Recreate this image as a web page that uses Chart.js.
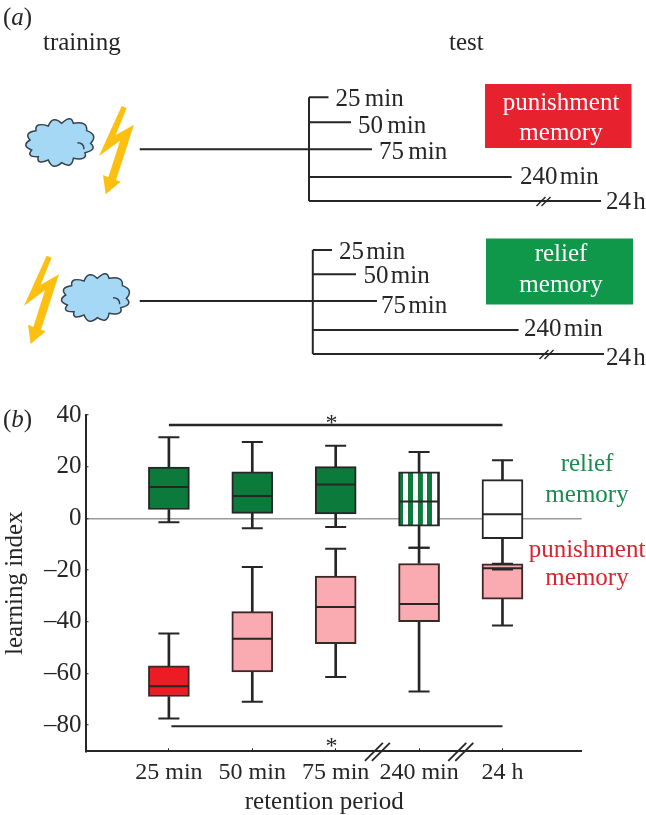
<!DOCTYPE html>
<html><head><meta charset="utf-8">
<style>html,body{margin:0;padding:0;background:#fff}canvas{position:absolute;left:0;display:block}</style>
<script src="https://cdn.jsdelivr.net/npm/chart.js@4"></script>
</head><body>
<canvas id="a" width="646" height="400" style="top:0"></canvas>
<canvas id="b" width="646" height="415" style="top:400px"></canvas>
<script>
// ---------- panel (b) data ----------
const categories = ['25 min','50 min','75 min','240 min','24 h'];
const positions = [1,2,3,4,5];
const reliefHigh   = [31.4,29.5,28.1,25.7,22.5];
const reliefQ3     = [19.8,18.0,20.0,18.0,15.0];
const reliefMedian = [12.1,8.6,13.1,6.5,1.6];
const reliefQ1     = [3.4,1.9,1.7,-3.0,-7.9];
const reliefLow    = [-1.5,-3.8,-3.4,-11.4,-19.8];
const punishHigh   = [-44.6,-18.8,-11.8,-11.4,-17.6];
const punishQ3     = [-57.1,-36.1,-22.4,-17.5,-17.6];
const punishMedian = [-65.0,-46.6,-34.3,-33.2,-19.3];
const punishQ1     = [-69.0,-59.5,-48.5,-40.0,-31.3];
const punishLow    = [-77.5,-71.0,-61.4,-67.0,-41.5];
const yTickValues  = [40,20,0,-20,-40,-60,-80];
const sigTop = [[1,36.1],[5,36.1]];
const sigBottom = [[1.03,-80.5],[5,-80.5]];
const axisBreaks = [3.5,4.5];

// ---------- panel (a) schematic data (diagram units) ----------
const branchLabels = ['25 min','50 min','75 min','240 min','24 h'];
const topBranchY   = [97.3,122.3,149.3,177,201];
const topBranchEnd = [328.5,351,372,511.6,601];
const lowBranchY   = [250,274.3,301,330,354];
const lowBranchEnd = [332,356,377,518.6,604];

const INK='#262626', SERIF='"Liberation Serif","Times New Roman",serif';
const seg=(xs,ys)=>xs.map((x,i)=>({x,y:ys[i]}));
const line=(data,w)=>({type:'scatter',data,showLine:true,borderColor:INK,borderWidth:w||2,pointRadius:0,spanGaps:false,order:1});

function branchData(spine,trunkStart,ys,ends){
  const out=[];
  out.push({x:trunkStart,y:ys[2]},{x:spine,y:ys[2]},{x:null,y:null});
  out.push({x:spine,y:ys[0]},{x:spine,y:ys[4]},{x:null,y:null});
  ys.forEach((y,i)=>out.push({x:spine,y},{x:ends[i],y},{x:null,y:null}));
  return out;
}

function text(ctx,s,x,y,o){
  o=o||{};
  ctx.save();
  ctx.font=(o.style?o.style+' ':'')+(o.size||25)+'px '+SERIF;
  ctx.fillStyle=o.color||INK;
  if(o.word) ctx.wordSpacing=o.word+'px';
  ctx.textAlign=o.align||'left';ctx.textBaseline='middle';
  ctx.fillText(s,x,y);ctx.restore();
}
function panelLetter(ctx,letter,x,y){
  ctx.save();ctx.font='25px '+SERIF;
  const w1=ctx.measureText('(').width;
  text(ctx,'(',x,y);
  ctx.font='italic 25px '+SERIF;
  const w2=ctx.measureText(letter).width;
  text(ctx,letter,x+w1,y,{style:'italic'});
  text(ctx,')',x+w1+w2,y);
  ctx.restore();
}
const boltShape=[[305,18],[320,24],[287,105],[342,74],[288,240],[302,245],[257,283],[249,225],[265,232],[300,122],[237,168]];
const cloudNotches=[[30,120],[48,92],[85,78],[125,70],[160,70],[200,92],[212,130],[195,158],[160,175],[125,188],[85,180],[55,170],[35,150]];
function bolt(ctx,dx,dy){
  ctx.save();ctx.fillStyle='#fdc010';ctx.beginPath();
  boltShape.forEach((p,i)=>{const X=p[0]/3+20+dx,Y=p[1]/3+100+dy;i?ctx.lineTo(X,Y):ctx.moveTo(X,Y)});
  ctx.closePath();ctx.fill();ctx.restore();
}
function cloud(ctx,dx,dy){
  const T=p=>[p[0]/3+20+dx,p[1]/3+100+dy];
  const c=T([118,130]);
  ctx.save();ctx.fillStyle='#a5d8f5';ctx.strokeStyle='#36424c';ctx.lineWidth=1.5;ctx.beginPath();
  const n=cloudNotches.map(T);
  ctx.moveTo(n[0][0],n[0][1]);
  n.forEach((p,i)=>{
    const q=n[(i+1)%n.length];
    const mx=(p[0]+q[0])/2,my=(p[1]+q[1])/2,d=Math.hypot(mx-c[0],my-c[1]);
    ctx.quadraticCurveTo(mx+(mx-c[0])/d*10,my+(my-c[1])/d*10,q[0],q[1]);
  });
  ctx.closePath();ctx.fill();ctx.stroke();
  const s=T([172,128]),e=T([192,148]);
  ctx.beginPath();ctx.moveTo(s[0],s[1]);ctx.quadraticCurveTo(e[0],s[1],e[0],e[1]);ctx.stroke();
  ctx.restore();
}
function slashes(ctx,cx,cy,half,gap,width){
  ctx.save();ctx.strokeStyle=INK;ctx.lineWidth=width;
  [-gap/2,gap/2].forEach(o=>{ctx.beginPath();ctx.moveTo(cx+o-half,cy+half);ctx.lineTo(cx+o+half,cy-half);ctx.stroke();});
  ctx.restore();
}

const schematicPlugin={id:'schematic',afterDatasetsDraw(chart){
  const ctx=chart.ctx;
  panelLetter(ctx,'a',3,18);
  text(ctx,'training',43,43);
  text(ctx,'test',449,43);
  bolt(ctx,0,0);cloud(ctx,0,0);
  bolt(ctx,-75,149.7);cloud(ctx,35.7,155);
  ctx.fillStyle='#e8212e';ctx.fillRect(485,84,146.5,64);
  ctx.fillStyle='#0f984a';ctx.fillRect(486,238.5,147,66);
  text(ctx,'punishment',561,103,{align:'center',color:'#fff'});
  text(ctx,'memory',561,133,{align:'center',color:'#fff'});
  text(ctx,'relief',561,254,{align:'center',color:'#fff'});
  text(ctx,'memory',561,285,{align:'center',color:'#fff'});
  const topX=[335.5,358,379,520,606], topLy=[99,126,152,177,202];
  const lowX=[339,363.5,381,524,606], lowLy=[252,276,306,329,358];
  const topW=[-2,-2,-2,-4,-4], lowW=[-4,-4,-4,-4,-4];
  branchLabels.forEach((s,i)=>{text(ctx,s,topX[i],topLy[i],{word:topW[i]});text(ctx,s,lowX[i],lowLy[i],{word:lowW[i]});});
  slashes(ctx,543.5,201.5,4.5,5,1.5);
  slashes(ctx,546.5,354.5,4.5,5,1.5);
}};

new Chart(document.getElementById('a'),{
  type:'scatter',
  data:{datasets:[
    line(branchData(309,139.7,topBranchY,topBranchEnd)),
    line(branchData(312.8,139.7,lowBranchY,lowBranchEnd))
  ]},
  options:{responsive:false,animation:false,events:[],
    layout:{padding:0,autoPadding:false},
    plugins:{legend:{display:false},tooltip:{enabled:false}},
    scales:{x:{type:'linear',min:0,max:646,display:false},y:{type:'linear',min:0,max:400,reverse:true,display:false}}},
  plugins:[schematicPlugin]
});

// ---------- panel (b) ----------
const ctxB=document.getElementById('b').getContext('2d');
const stripe=document.createElement('canvas');stripe.width=29;stripe.height=1;
const sc=stripe.getContext('2d');sc.fillStyle='#fff';sc.fillRect(0,0,29,1);sc.fillStyle='#0c7a3a';sc.fillRect(0,0,15,1);
const stripes=ctxB.createPattern(stripe,'repeat');
stripes.setTransform(new DOMMatrix([1/3,0,0,1,398.3,0]));
const G='#0c7a3a',P='#f9abb1';
const reliefFill=[G,G,G,stripes,'#ffffff'];
const punishFill=['#ed1c24',P,P,P,P];
const pair=(a,b)=>positions.map((x,i)=>({x,y:[a[i],b[i]]}));
const pts=a=>positions.map((x,i)=>({x,y:a[i]}));
const box=(a,b,fill,bc)=>({type:'bar',data:pair(a,b),backgroundColor:fill,borderColor:bc,borderWidth:2,borderSkipped:false,barThickness:41,grouped:false,order:3});
const stem=(a,b)=>({type:'bar',data:pair(a,b),backgroundColor:INK,borderWidth:0,barThickness:2,grouped:false,order:4});
const mark=(a,r)=>({type:'scatter',data:pts(a),pointStyle:'line',pointRadius:r,pointBorderColor:INK,pointBorderWidth:2,showLine:false,order:2});

const annotationPlugin={id:'annot',afterDatasetsDraw(chart){
  const ctx=chart.ctx,x=chart.scales.x,y=chart.scales.y;
  panelLetter(ctx,'b',3,20);
  const green='#1b8a4f',red='#d9252f';
  text(ctx,'relief',587,64,{align:'center',color:green});
  text(ctx,'memory',587,95,{align:'center',color:green});
  text(ctx,'punishment',587,150,{align:'center',color:red});
  text(ctx,'memory',587,178,{align:'center',color:red});
  text(ctx,'*',x.getPixelForValue(2.95),y.getPixelForValue(36.6),{align:'center',size:24});
  text(ctx,'*',x.getPixelForValue(2.95),y.getPixelForValue(-88.3),{align:'center',size:24});
  axisBreaks.forEach(v=>slashes(ctx,x.getPixelForValue(v),y.bottom+0.5,9,7,1.8));
}};

new Chart(ctxB,{
  type:'bar',
  data:{datasets:[
    stem(reliefLow,reliefQ1),stem(reliefQ3,reliefHigh),
    stem(punishLow,punishQ1),stem(punishQ3,punishHigh),
    box(reliefQ1,reliefQ3,reliefFill,INK),
    box(punishQ1,punishQ3,punishFill,'#3d2626'),
    mark(reliefMedian,20),mark(punishMedian,20),
    mark(reliefHigh,10.5),mark(reliefLow,10.5),mark(punishHigh,10.5),mark(punishLow,10.5),
    line(seg(sigTop.map(p=>p[0]),sigTop.map(p=>p[1])),2.5),
    line(seg(sigBottom.map(p=>p[0]),sigBottom.map(p=>p[1])),2)
  ]},
  options:{responsive:false,animation:false,events:[],
    layout:{autoPadding:false,padding:{top:15,right:64.3,left:0,bottom:0}},
    plugins:{legend:{display:false},tooltip:{enabled:false}},
    scales:{
      x:{type:'linear',offset:false,min:0,max:5.95,
        afterFit(s){s.height=63.7;s.paddingLeft=0;s.paddingRight=0;},
        grid:{offset:false,drawOnChartArea:false,tickLength:-3,tickColor:INK,tickWidth:1},
        border:{color:INK,width:2},
        ticks:{stepSize:1,includeBounds:false,autoSkip:false,maxRotation:0,padding:10,color:INK,
          font:{family:SERIF,size:24},
          callback:v=>categories[positions.indexOf(v)]||''},
        title:{display:true,text:'retention period\u00a0\u00a0\u00a0',color:INK,font:{family:SERIF,size:25,lineHeight:1},padding:0}},
      y:{type:'linear',min:-90.2,max:40,
        afterFit(s){s.width=85.5;s.paddingTop=0;s.paddingBottom=0;},
        grid:{tickLength:-3,tickColor:INK,tickWidth:1,lineWidth:1.5,
          color:c=>c.tick&&c.tick.value===0?'#9a9a9a':'rgba(0,0,0,0)'},
        border:{color:INK,width:2},
        afterBuildTicks(s){s.ticks=yTickValues.map(value=>({value}));},
        ticks:{padding:7,color:INK,font:{family:SERIF,size:25},autoSkip:false,
          callback:v=>v<0?'\u2013'+Math.abs(v):String(v)},
        title:{display:true,text:'learning index',color:INK,font:{family:SERIF,size:25},padding:0}}
    }},
  plugins:[annotationPlugin]
});
</script>
</body></html>
